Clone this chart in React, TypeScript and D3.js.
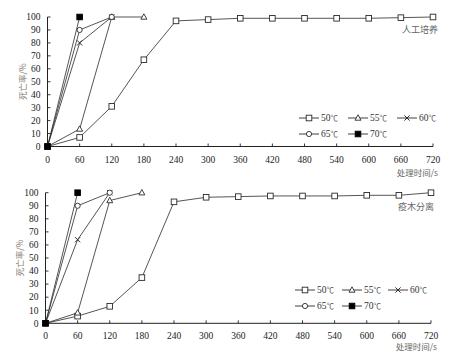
import React from "react";
import * as d3 from "d3";

const times = [0, 60, 120, 180, 240, 300, 360, 420, 480, 540, 600, 660, 720];
const tempValues = ["50", "55", "60", "65", "70"];
const markerKinds = ["square", "triangle", "cross", "circle", "filled"];

// 人工培养
const cultured50 = [0, 7, 31, 67, 97, 98, 99, 99, 99, 99, 99, 99.5, 100];
const cultured55 = [0, 13.5, 100, 100];
const cultured60 = [0, 80, 100];
const cultured65 = [0, 90, 100];
const cultured70 = [0, 100];

// 疫木分离
const isolated50 = [0, 5.5, 13, 35, 93, 96.5, 97, 97.5, 97.5, 97.5, 98, 98, 100];
const isolated55 = [0, 8, 94, 100];
const isolated60 = [0, 64, 100];
const isolated65 = [0, 90, 100];
const isolated70 = [0, 100];

const yTicks = [0, 10, 20, 30, 40, 50, 60, 70, 80, 90, 100];
const xTicks = times;

const serif = "'Liberation Serif', 'Times New Roman', serif";
const cjk = "'Noto Sans CJK SC', sans-serif";
const lineColor = "#2a2a2a";

function Marker({ kind, x, y }: { kind: string; x: number; y: number }) {
  const s = 2.8;
  if (kind === "square")
    return <rect x={x - s} y={y - s} width={2 * s} height={2 * s} fill="#fff" stroke={lineColor} strokeWidth={0.9} />;
  if (kind === "filled")
    return <rect x={x - s} y={y - s} width={2 * s} height={2 * s} fill="#000" stroke="#000" strokeWidth={0.9} />;
  if (kind === "circle")
    return <circle cx={x} cy={y} r={2.6} fill="#fff" stroke={lineColor} strokeWidth={0.9} />;
  if (kind === "triangle")
    return (
      <path
        d={`M${x},${y - 3.2}L${x + 3},${y + 2.2}L${x - 3},${y + 2.2}Z`}
        fill="#fff"
        stroke={lineColor}
        strokeWidth={0.9}
      />
    );
  return (
    <path d={`M${x - 2.6},${y - 2.6}L${x + 2.6},${y + 2.6}M${x - 2.6},${y + 2.6}L${x + 2.6},${y - 2.6}`} stroke={lineColor} strokeWidth={1} />
  );
}

type PanelProps = {
  series: number[][];
  title: string;
  x0: number;
  x1: number;
  yBottom: number;
  yTop: number;
  yLabelX: number;
  legendX: number[];
  legendY: number[];
  titleX: number;
  titleY: number;
  xTitleX: number;
  xTitleY: number;
};

function Panel(p: PanelProps) {
  const x = d3.scaleLinear().domain([0, 720]).range([p.x0, p.x1]);
  const y = d3.scaleLinear().domain([0, 100]).range([p.yBottom, p.yTop]);
  const line = d3
    .line<[number, number]>()
    .x((d) => x(d[0]))
    .y((d) => y(d[1]));

  const legendPos = [
    [p.legendX[0], p.legendY[0]],
    [p.legendX[1], p.legendY[0]],
    [p.legendX[2], p.legendY[0]],
    [p.legendX[0], p.legendY[1]],
    [p.legendX[1], p.legendY[1]],
  ];

  return (
    <g>
      <line x1={p.x0} x2={p.x0} y1={y(100)} y2={y(0)} stroke="#222" strokeWidth={1} />
      <line x1={p.x0} x2={p.x1} y1={y(0)} y2={y(0)} stroke="#222" strokeWidth={1} />
      {yTicks.map((t) => (
        <g key={"y" + t}>
          <line x1={p.x0} x2={p.x0 + 3} y1={y(t)} y2={y(t)} stroke="#222" strokeWidth={0.9} />
          <text x={p.x0 - 7} y={y(t) + 3.3} textAnchor="end" fontFamily={serif} fontSize={9.5} fill="#222">
            {t}
          </text>
        </g>
      ))}
      {xTicks.map((t) => (
        <g key={"x" + t}>
          <line x1={x(t)} x2={x(t)} y1={y(0)} y2={y(0) - 3} stroke="#222" strokeWidth={0.9} />
          <text x={x(t)} y={y(0) + 16} textAnchor="middle" fontFamily={serif} fontSize={9.5} fill="#222">
            {t}
          </text>
        </g>
      ))}
      <text
        transform={`translate(${p.yLabelX},${(y(0) + y(100)) / 2}) rotate(-90)`}
        textAnchor="middle"
        fontFamily={cjk}
        fontSize={8.5}
        fill="#8a7d72"
      >
        死亡率/%
      </text>
      <text x={p.xTitleX} y={p.xTitleY} textAnchor="end" fontFamily={cjk} fontSize={8.5} fill="#666">
        处理时间/s
      </text>
      <text x={p.titleX} y={p.titleY} textAnchor="end" fontFamily={cjk} fontSize={9} fill="#666">
        {p.title}
      </text>
      {p.series.map((vals, i) => {
        const pts = vals.map((v, j) => [times[j], v] as [number, number]);
        return <path key={"s" + i} d={line(pts) || ""} fill="none" stroke={lineColor} strokeWidth={0.8} />;
      })}
      {p.series.map((vals, i) =>
        vals.map((v, j) => <Marker key={"m" + i + "-" + j} kind={markerKinds[i]} x={x(times[j])} y={y(v)} />)
      )}
      {tempValues.map((lab, i) => {
        const [lx, ly] = legendPos[i];
        return (
          <g key={"l" + i}>
            <line x1={lx} x2={lx + 20} y1={ly} y2={ly} stroke={lineColor} strokeWidth={0.9} />
            <Marker kind={markerKinds[i]} x={lx + 10} y={ly} />
            <text x={lx + 22} y={ly + 3.2} fontFamily={serif} fontSize={9.5} fill="#333">
              {lab}
              <tspan fontFamily={cjk} fontSize={7.5} fill="#555">
                ℃
              </tspan>
            </text>
          </g>
        );
      })}
    </g>
  );
}

export default function App() {
  return (
    <svg width={454} height={361} style={{ position: "absolute", left: 0, top: 0 }}>
      <rect width={454} height={361} fill="#fff" />
      <Panel
        series={[cultured50, cultured55, cultured60, cultured65, cultured70]}
        title="人工培养"
        x0={47.5}
        x1={433}
        yBottom={146.5}
        yTop={17}
        yLabelX={26}
        legendX={[299, 348, 397]}
        legendY={[118, 134]}
        titleX={438}
        titleY={33}
        xTitleX={438}
        xTitleY={176}
      />
      <Panel
        series={[isolated50, isolated55, isolated60, isolated65, isolated70]}
        title="疫木分离"
        x0={45.5}
        x1={431}
        yBottom={323.3}
        yTop={192.7}
        yLabelX={23}
        legendX={[295, 342, 388]}
        legendY={[290, 306]}
        titleX={434}
        titleY={210}
        xTitleX={437}
        xTitleY={350}
      />
    </svg>
  );
}
